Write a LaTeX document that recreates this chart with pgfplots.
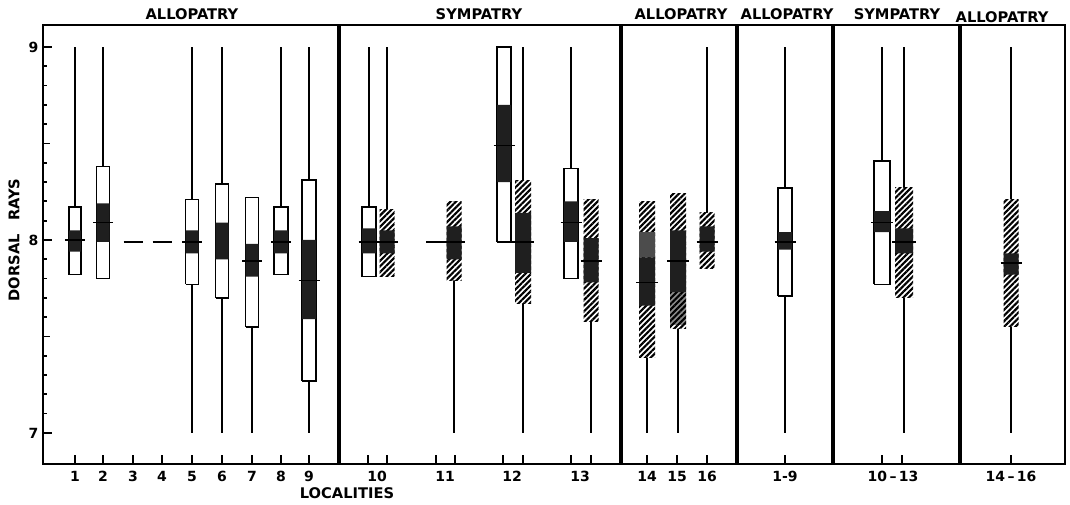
\documentclass[border=0pt]{standalone}
\usepackage{fontspec}
\setmainfont{DejaVu Sans}
\usepackage{pgfplots}
\pgfplotsset{compat=1.18}
\usetikzlibrary{patterns.meta}
\tikzset{
  wbox/.style={draw=black, line width=1.1pt, fill=white, line join=miter},
  bbox/.style={draw=none, fill=black!88},
  gbox/.style={draw=none, fill=black!70},
  sbox/.style={draw=none, fill=black, fill opacity=0.45},
  hbox/.style={draw=none, fill=white, postaction={pattern={Lines[angle=45,distance=3pt,line width=1.6pt]}}},
}
\newcommand\RNG[3]{\addplot[black, line width=0.9pt] coordinates {(#1,#2) (#1,#3)};}
\newcommand\BOX[5]{%
  \pgfmathsetmacro\xa{#2-#3}\pgfmathsetmacro\xb{#2+#3}%
  \edef\tmp{\noexpand\addplot[#1] coordinates {(\xa,#4) (\xb,#4) (\xb,#5) (\xa,#5) (\xa,#4)};}\tmp}
\newcommand\MEAN[3]{%
  \pgfmathsetmacro\xa{#1-#2}\pgfmathsetmacro\xb{#1+#2}%
  \edef\tmp{\noexpand\addplot[black, line width=1.3pt] coordinates {(\xa,#3) (\xb,#3)};}\tmp}
\newcommand\DIV[1]{\addplot[black, line width=2.4pt] coordinates {(#1,6.839) (#1,9.114)};}
\begin{document}
\begin{tikzpicture}
\path[use as bounding box] (-32.25pt,-30.75pt) rectangle (770.25pt,348pt);
\begin{axis}[
  at={(0,0)}, anchor=south west, scale only axis,
  width=766.5pt, height=329.25pt,
  xmin=43, xmax=1065, ymin=6.839, ymax=9.114,
  clip=false,
  axis line style={line width=2pt},
  xtick pos=bottom, ytick pos=left,
  xtick={75,103,133,162,192,222,252,281,309,368,387,436,455,503,523,571,591,647,677,707,785,882,902,1011},
  xticklabels={},
  extra x ticks={75,103,133,162,192,222,252,281,309,377,445,512,580,647,677,707,785,893,1011},
  extra x tick labels={1,2,3,4,5,6,7,8,9,10,11,12,13,14,15,16,1-9,10\,--\,13,14\,--\,16},
  extra x tick style={major tick length=0pt, xticklabel style={yshift=-2pt}},
  ytick={7,8,9}, yticklabels={7,8,9},
  minor y tick num=9,
  extra y ticks={7.5,8.5}, extra y tick labels={},
  extra y tick style={major tick length=5pt},
  major tick length=7pt, minor tick length=3pt,
  every tick/.style={black, line width=1.3pt},
  tick label style={font=\fontsize{10.5}{12}\selectfont\bfseries},
]
% dividers
\DIV{339}\DIV{621}\DIV{737}\DIV{833}\DIV{960}
% 1
\RNG{75}{7.82}{9.00}\BOX{wbox}{75}{6}{7.82}{8.17}\BOX{bbox}{75}{6}{7.94}{8.05}\MEAN{75}{10}{8.00}
% 2
\RNG{103}{7.80}{9.00}\BOX{wbox}{103}{6.5}{7.80}{8.38}\BOX{bbox}{103}{6.5}{7.99}{8.19}\MEAN{103}{10}{8.09}
% 3, 4
\MEAN{133}{9.5}{7.99}\MEAN{162}{9.5}{7.99}
% 5
\RNG{192}{7.00}{9.00}\BOX{wbox}{192}{6.5}{7.77}{8.21}\BOX{bbox}{192}{6.5}{7.93}{8.05}\MEAN{192}{10}{7.99}
% 6
\RNG{222}{7.00}{9.00}\BOX{wbox}{222}{6.5}{7.70}{8.29}\BOX{bbox}{222}{6.5}{7.90}{8.09}
% 7
\RNG{252}{7.00}{8.22}\BOX{wbox}{252}{6.5}{7.55}{8.22}\BOX{bbox}{252}{6.5}{7.81}{7.98}\MEAN{252}{10}{7.89}
% 8
\RNG{281}{7.82}{9.00}\BOX{wbox}{281}{7}{7.82}{8.17}\BOX{bbox}{281}{7}{7.93}{8.05}\MEAN{281}{10}{7.99}
% 9
\RNG{309}{7.00}{9.00}\BOX{wbox}{309}{7}{7.27}{8.31}\BOX{bbox}{309}{7}{7.59}{8.00}\MEAN{309}{10.5}{7.79}
% 10
\RNG{369}{7.81}{9.00}\BOX{wbox}{369}{7}{7.81}{8.17}\BOX{bbox}{369}{7}{7.93}{8.06}\MEAN{369}{10.5}{7.99}
\RNG{387}{7.81}{9.00}\BOX{hbox}{387}{7.5}{7.81}{8.16}\BOX{bbox}{387}{7.5}{7.93}{8.05}\MEAN{387}{10.5}{7.99}
% 11
\MEAN{436.5}{10.5}{7.99}
\RNG{454}{7.00}{8.20}\BOX{hbox}{454}{7.5}{7.79}{8.20}\BOX{bbox}{454}{7.5}{7.90}{8.07}\MEAN{454}{10.5}{7.99}
% 12
\BOX{wbox}{504}{7}{7.99}{9.00}\BOX{bbox}{504}{7}{8.30}{8.70}\MEAN{504}{10.5}{8.49}
\RNG{523}{7.00}{9.00}\BOX{hbox}{523}{8}{7.67}{8.31}\BOX{bbox}{523}{8}{7.83}{8.14}\MEAN{523}{11}{7.99}
% 13
\RNG{571}{7.80}{9.00}\BOX{wbox}{571}{7}{7.80}{8.37}\BOX{bbox}{571}{7}{7.99}{8.20}\MEAN{571}{10.5}{8.09}
\RNG{591}{7.00}{8.21}\BOX{hbox}{591}{7.5}{7.58}{8.21}\BOX{bbox}{591}{7.5}{7.78}{8.01}\MEAN{591}{10.5}{7.89}
% 14
\RNG{647}{7.00}{8.20}\BOX{hbox}{647}{8}{7.39}{8.20}\BOX{gbox}{647}{8}{7.91}{8.04}\BOX{bbox}{647}{8}{7.66}{7.91}\MEAN{647}{11}{7.78}
% 15
\RNG{678}{7.00}{8.24}\BOX{hbox}{678}{8}{7.54}{8.24}\BOX{sbox}{678}{8}{7.56}{7.73}\BOX{bbox}{678}{8}{7.73}{8.05}\MEAN{678}{11}{7.89}
% 16
\RNG{707}{7.85}{9.00}\BOX{hbox}{707}{7.5}{7.85}{8.14}\BOX{bbox}{707}{7.5}{7.94}{8.07}\MEAN{707}{10.5}{7.99}
% 1-9
\RNG{785}{7.00}{9.00}\BOX{wbox}{785}{7}{7.71}{8.27}\BOX{bbox}{785}{7}{7.95}{8.04}\MEAN{785}{10.5}{7.99}
% 10-13
\RNG{882}{7.77}{9.00}\BOX{wbox}{882}{8}{7.77}{8.41}\BOX{bbox}{882}{8}{8.04}{8.15}\MEAN{882}{11}{8.09}
\RNG{904}{7.00}{9.00}\BOX{hbox}{904}{9}{7.70}{8.27}\BOX{bbox}{904}{9}{7.93}{8.06}\MEAN{904}{12}{7.99}
% 14-16
\RNG{1011}{7.00}{9.00}\BOX{hbox}{1011}{7.5}{7.55}{8.21}\BOX{bbox}{1011}{7.5}{7.82}{7.93}\MEAN{1011}{10.5}{7.88}
% texts
\begin{scope}[every node/.style={font=\fontsize{11}{13}\selectfont\bfseries}]
\node at (axis cs:192,9.171) {ALLOPATRY};
\node at (axis cs:479,9.171) {SYMPATRY};
\node at (axis cs:681,9.171) {ALLOPATRY};
\node at (axis cs:787,9.171) {ALLOPATRY};
\node at (axis cs:897,9.171) {SYMPATRY};
\node at (axis cs:1002,9.155) {ALLOPATRY};
\node at (axis cs:347,6.689) {LOCALITIES};
\node[rotate=90] at (axis cs:14,8) {DORSAL\hspace{0.9em}RAYS};
\end{scope}
\end{axis}
\end{tikzpicture}
\end{document}
